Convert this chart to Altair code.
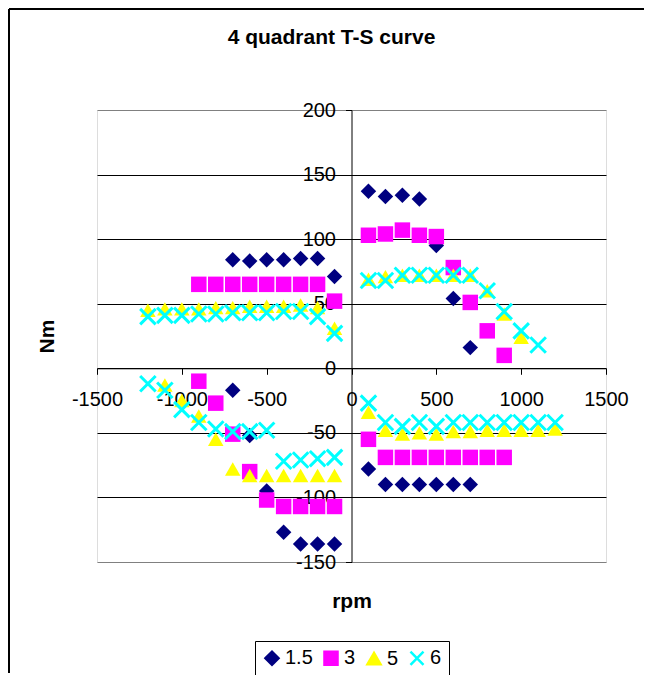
import altair as alt
import pandas as pd

# ---- data ----
series_names = ["1.5", "3", "5", "6"]
colors = ["#000080", "#FF00FF", "#FFFF00", "#00FFFF"]
shapes = ["diamond", "square", "triangle-up", "M-1,-1L1,1M1,-1L-1,1"]

rpm_15 = [-700, -600, -500, -400, -300, -200, -100,
          100, 200, 300, 400, 500, 600, 700,
          -700, -600, -500, -400, -300, -200, -100,
          100, 200, 300, 400, 500, 600, 700]
nm_15 = [84, 83, 84, 84, 85, 85, 71,
         137, 133, 134, 131, 95, 54, 16,
         -17, -52, -95, -127, -136, -136, -136,
         -78, -90, -90, -90, -90, -90, -90]

rpm_3 = [-900, -800, -700, -600, -500, -400, -300, -200, -100,
         100, 200, 300, 400, 500, 600, 700, 800, 900,
         -900, -800, -700, -600, -500, -400, -300, -200, -100,
         100, 200, 300, 400, 500, 600, 700, 800, 900]
nm_3 = [65, 65, 65, 65, 65, 65, 65, 65, 52,
        103, 104, 107, 103, 102, 78, 51, 29, 10,
        -10, -27, -51, -80, -102, -107, -107, -107, -107,
        -55, -69, -69, -69, -69, -69, -69, -69, -69]

rpm_5 = [-1200, -1100, -1000, -900, -800, -700, -600, -500, -400, -300, -200, -100,
         100, 200, 300, 400, 500, 600, 700, 800, 900, 1000,
         -1100, -1000, -900, -800, -700, -600, -500, -400, -300, -200, -100,
         100, 200, 300, 400, 500, 600, 700, 800, 900, 1000, 1100, 1200]
nm_5 = [45, 46, 46, 46, 47, 47, 48, 48, 48, 49, 47, 31,
        69, 71, 72, 72, 72, 72, 72, 60, 42, 24,
        -13, -25, -37, -55, -78, -83, -83, -83, -83, -83, -83,
        -34, -48, -51, -50, -51, -49, -49, -48, -48, -48, -48, -47]

rpm_6 = [-1200, -1100, -1000, -900, -800, -700, -600, -500, -400, -300, -200, -100,
         100, 200, 300, 400, 500, 600, 700, 800, 900, 1000, 1100,
         -1200, -1100, -1000, -900, -800, -700, -600, -500, -400, -300, -200, -100,
         100, 200, 300, 400, 500, 600, 700, 800, 900, 1000, 1100, 1200]
nm_6 = [40, 41, 41, 42, 42, 43, 43, 43, 44, 44, 40, 27,
        68, 68, 72, 72, 72, 72, 72, 60, 44, 29, 18,
        -12, -17, -32, -42, -47, -49, -49, -48, -72, -71, -70, -69,
        -27, -42, -45, -42, -45, -42, -42, -42, -42, -42, -42, -42]

x_ticks = [-1500, -1000, -500, 0, 500, 1000, 1500]
y_ticks = [-150, -100, -50, 0, 50, 100, 150, 200]

# ---- table ----
rows = []
for name, xs, ys in zip(series_names, [rpm_15, rpm_3, rpm_5, rpm_6], [nm_15, nm_3, nm_5, nm_6]):
    for xv, yv in zip(xs, ys):
        rows.append({"series": name, "rpm": xv, "nm": yv, "idx": len(rows)})
df = pd.DataFrame(rows)

W, H = 509, 452
x_dom = [x_ticks[0], x_ticks[-1]]
y_dom = [y_ticks[0], y_ticks[-1]]
y_axis_offset = -W * (0 - x_dom[0]) / (x_dom[1] - x_dom[0])
x_axis_offset = -H * (0 - y_dom[0]) / (y_dom[1] - y_dom[0])

FONT = "Liberation Sans"

legend = alt.Legend(
    title=None, orient="none", legendX=158, legendY=531, direction="horizontal",
    labelFontSize=20, labelFont=FONT, labelColor="black", symbolSize=170,
    symbolStrokeWidth=2.5, symbolOpacity=1, strokeColor="black", fillColor="white",
    padding=7, columnPadding=6, labelOffset=3,
)

points = alt.Chart(df).mark_point(filled=True, opacity=1, size=240).encode(
    x=alt.X("rpm:Q",
            scale=alt.Scale(domain=x_dom, nice=False, zero=False),
            axis=alt.Axis(values=x_ticks, orient="bottom", offset=x_axis_offset, grid=False,
                          domainColor="black", domainWidth=1, tickColor="black", tickSize=6,
                          labelFontSize=20, labelFont=FONT, labelColor="black", labelPadding=15,
                          labelFlush=False, labelOverlap=False, labelExpr="datum.value + ''",
                          title="rpm", titleFontSize=21, titleFont=FONT, titleFontWeight="bold",
                          titleColor="black", titleY=239, titleBaseline="alphabetic")),
    y=alt.Y("nm:Q",
            scale=alt.Scale(domain=y_dom, nice=False, zero=False),
            axis=alt.Axis(values=y_ticks, orient="left", offset=y_axis_offset, grid=True,
                          gridColor=alt.condition("datum.value == 200 || datum.value == -150",
                                                  alt.value("#808080"), alt.value("black")),
                          gridWidth=1, domainColor="black", domainWidth=1, tickColor="black",
                          tickSize=6, labelFontSize=20, labelFont=FONT, labelColor="black",
                          labelPadding=10, labelFlush=False, labelOverlap=False,
                          labelExpr="datum.value + ''",
                          title="Nm", titleFontSize=21, titleFont=FONT, titleFontWeight="bold",
                          titleColor="black", titleX=-298, titleBaseline="alphabetic")),
    fill=alt.Fill("series:N", scale=alt.Scale(domain=series_names, range=colors), legend=legend),
    stroke=alt.Stroke("series:N", scale=alt.Scale(domain=series_names, range=colors), legend=legend),
    shape=alt.Shape("series:N", scale=alt.Scale(domain=series_names, range=shapes), legend=legend),
    strokeWidth=alt.condition(alt.datum.series == "6", alt.value(3), alt.value(0)),
    order=alt.Order("idx:Q"),
)

# outer chart-area frame (only its left and top edges fall inside the page)
frame_left = alt.Chart(alt.Data(values=[{}])).mark_rule(color="black", strokeWidth=2).encode(
    x=alt.value(-88), y=alt.value(-101), y2=alt.value(H + 111)
)
frame_top = alt.Chart(alt.Data(values=[{}])).mark_rule(color="black", strokeWidth=2).encode(
    x=alt.value(-88), x2=alt.value(W + 60), y=alt.value(-101), y2=alt.value(-101)
)

chart = alt.layer(frame_left, frame_top, points).properties(
    width=W, height=H,
    autosize=alt.AutoSizeParams(type="none"),
    padding={"left": 89, "top": 102, "right": 38, "bottom": 113},
    title=alt.TitleParams("4 quadrant T-S curve", fontSize=21, font=FONT, fontWeight="bold",
                          color="black", anchor="middle", dx=-20, offset=-57,
                          baseline="alphabetic"),
).configure_view(stroke="#808080", strokeWidth=2).configure(font=FONT, background="white")

chart.save("out.html", embed_options={"renderer": "svg", "actions": False})
